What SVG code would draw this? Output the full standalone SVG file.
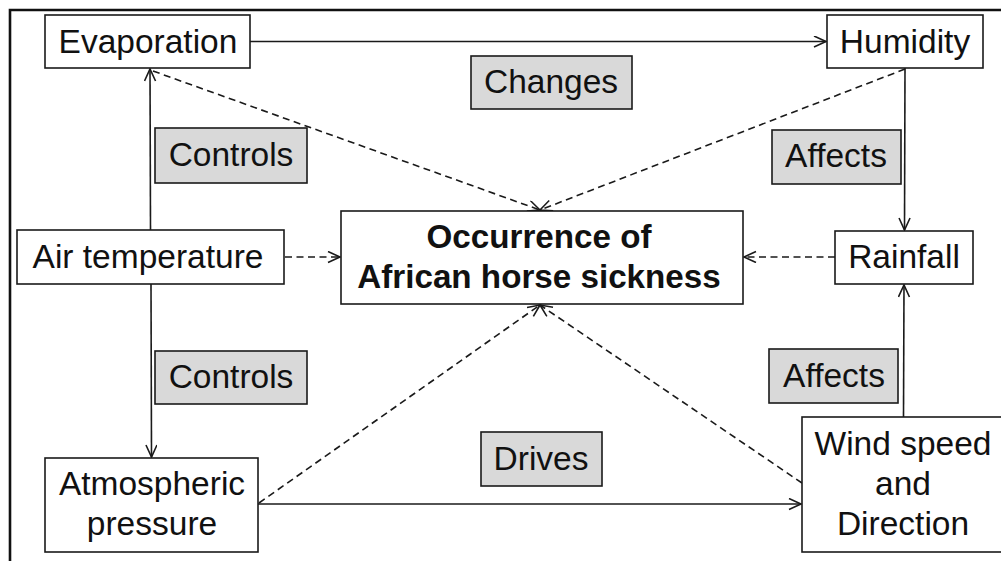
<svg xmlns="http://www.w3.org/2000/svg" width="1001" height="561" viewBox="0 0 1001 561">
<defs>
<style>
.box{fill:#fff;stroke:#1a1a1a;stroke-width:1.6}
.lbl{fill:#d9d9d9;stroke:#1a1a1a;stroke-width:1.6}
.t{font-family:"Liberation Sans",Arial,sans-serif;font-size:33.5px;fill:#111;text-anchor:middle}
.b{font-weight:bold;font-size:33.2px}
.c{fill:none;stroke:#1a1a1a;stroke-width:1.6}
.d{stroke-dasharray:7,4.5}
</style>
<marker id="ah" markerUnits="userSpaceOnUse" markerWidth="16" markerHeight="14" refX="13" refY="6" orient="auto">
<path d="M1,0.5 L13,6 L1,11.5" fill="none" stroke="#1a1a1a" stroke-width="1.6"/>
</marker>
</defs>
<rect width="1001" height="561" fill="#fff"/>
<path d="M10,561 L10,10 L1001,10" fill="none" stroke="#111" stroke-width="2.6"/>
<g id="connectors">
<line class="c" x1="250" y1="41.5" x2="826" y2="41.5" marker-end="url(#ah)"/>
<line class="c" x1="150.5" y1="230" x2="150" y2="69" marker-end="url(#ah)"/>
<line class="c" x1="151" y1="284" x2="151.5" y2="457" marker-end="url(#ah)"/>
<line class="c" x1="905" y1="68" x2="904.5" y2="230" marker-end="url(#ah)"/>
<line class="c" x1="903.5" y1="417" x2="904" y2="285" marker-end="url(#ah)"/>
<line class="c" x1="258" y1="504" x2="801" y2="504" marker-end="url(#ah)"/>
<line class="c d" x1="153" y1="71" x2="540" y2="210" marker-end="url(#ah)"/>
<line class="c d" x1="905" y1="69" x2="540" y2="210" marker-end="url(#ah)"/>
<line class="c d" x1="285" y1="257" x2="340" y2="257" marker-end="url(#ah)"/>
<line class="c d" x1="835" y1="257" x2="744" y2="257" marker-end="url(#ah)"/>
<line class="c d" x1="259" y1="503" x2="540" y2="305" marker-end="url(#ah)"/>
<line class="c d" x1="802" y1="483" x2="540" y2="305" marker-end="url(#ah)"/>
</g>
<g id="evaporation"><rect class="box" x="45" y="15" width="205" height="53"/><text class="t" x="148" y="53">Evaporation</text></g>
<g id="humidity"><rect class="box" x="827" y="15" width="156" height="53"/><text class="t" x="905" y="53">Humidity</text></g>
<g id="changes"><rect class="lbl" x="471" y="56" width="161" height="53"/><text class="t" x="551" y="93">Changes</text></g>
<g id="controls1"><rect class="lbl" x="155" y="128" width="152" height="55"/><text class="t" x="231" y="166">Controls</text></g>
<g id="affects1"><rect class="lbl" x="772" y="130" width="129" height="54"/><text class="t" x="836" y="167">Affects</text></g>
<g id="air"><rect class="box" x="17" y="230" width="267" height="54"/><text class="t" x="148" y="268">Air temperature</text></g>
<g id="ahs"><rect class="box" x="341" y="211" width="402" height="93"/><text class="t b" x="539" y="248">Occurrence of</text><text class="t b" x="539" y="288">African horse sickness</text></g>
<g id="rainfall"><rect class="box" x="835" y="231" width="138" height="53"/><text class="t" x="904" y="268">Rainfall</text></g>
<g id="controls2"><rect class="lbl" x="155" y="351" width="152" height="53"/><text class="t" x="231" y="388">Controls</text></g>
<g id="affects2"><rect class="lbl" x="769" y="349" width="129" height="54"/><text class="t" x="834" y="387">Affects</text></g>
<g id="drives"><rect class="lbl" x="481" y="432" width="121" height="54"/><text class="t" x="541" y="470">Drives</text></g>
<g id="atmos"><rect class="box" x="45" y="458" width="213" height="94"/><text class="t" x="152" y="495">Atmospheric</text><text class="t" x="152" y="535">pressure</text></g>
<g id="wind"><rect class="box" x="802" y="417" width="205" height="135"/><text class="t" x="903" y="455">Wind speed</text><text class="t" x="903" y="495">and</text><text class="t" x="903" y="535">Direction</text></g>
</svg>
